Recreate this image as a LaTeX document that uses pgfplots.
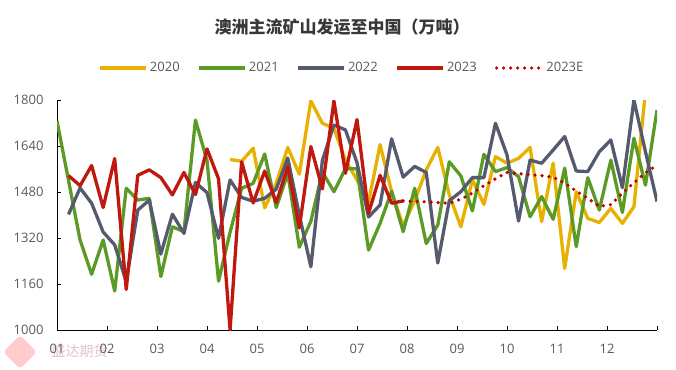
\documentclass[border=0pt]{standalone}
\usepackage{pgfplots}
\pgfplotsset{compat=1.18}
\usepackage{pgfplotstable}
\usepackage{fontspec}
\setmainfont{Open Sans}
\newfontfamily\cjk{Noto Sans CJK SC}
\definecolor{c20}{HTML}{E8B000}
\definecolor{c21}{HTML}{5C9A26}
\definecolor{c22}{HTML}{565A6E}
\definecolor{c23}{HTML}{C0170F}
\definecolor{c23e}{HTML}{C00000}
\definecolor{txt}{HTML}{595959}

\pgfplotstableread{
x y
15 1593
16 1587
17 1632
18 1425
19 1510
20 1635
21 1542
22 1797
23 1719
24 1701
25 1591
26 1522
27 1445
28 1645
29 1481
30 1362
31 1450
32 1557
33 1635
34 1470
35 1359
36 1522
37 1437
38 1603
39 1580
40 1597
41 1635
42 1377
43 1580
44 1214
45 1481
46 1388
47 1374
48 1423
49 1371
50 1429
51 1830
52 1860
}\tA

\pgfplotstableread{
x y
0 1727
1 1520
2 1313
3 1194
4 1313
5 1136
6 1493
7 1452
8 1458
9 1186
10 1359
11 1342
12 1730
13 1590
14 1170
15 1340
16 1493
17 1510
18 1612
19 1426
20 1545
21 1288
22 1378
23 1550
24 1481
25 1561
26 1561
27 1278
28 1371
29 1483
30 1342
31 1493
32 1301
33 1365
34 1585
35 1536
36 1414
37 1611
38 1551
39 1565
40 1533
41 1394
42 1464
43 1385
44 1563
45 1290
46 1530
47 1417
48 1591
49 1409
50 1667
51 1504
52 1765
}\tB

\pgfplotstableread{
x y
1 1402
2 1494
3 1441
4 1341
5 1296
6 1168
7 1417
8 1452
9 1264
10 1403
11 1336
12 1513
13 1478
14 1319
15 1522
16 1461
17 1448
18 1458
19 1490
20 1598
21 1400
22 1220
23 1590
24 1713
25 1696
26 1582
27 1393
28 1435
29 1665
30 1532
31 1569
32 1548
33 1233
34 1450
35 1481
36 1530
37 1530
38 1719
39 1609
40 1379
41 1591
42 1580
43 1626
44 1673
45 1553
46 1551
47 1620
48 1661
49 1495
50 1800
51 1620
52 1447
}\tC

\pgfplotstableread{
x y
1 1537
2 1502
3 1572
4 1426
5 1596
6 1141
7 1538
8 1557
9 1530
10 1470
11 1548
12 1471
13 1630
14 1526
15 1000
16 1585
17 1442
18 1553
19 1443
20 1568
21 1355
22 1638
23 1491
24 1797
25 1545
26 1732
27 1406
28 1538
29 1441
30 1449
}\tD

\pgfplotstableread{
x y
30 1449
31 1447
32 1446
33 1443
34 1441
35 1455
36 1476
37 1502
38 1526
39 1548
40 1544
41 1540
42 1537
43 1531
44 1511
45 1483
46 1458
47 1430
48 1436
49 1476
50 1512
51 1547
52 1573
}\tE

\begin{document}
\begin{tikzpicture}
\path[use as bounding box] (0,0) rectangle (676pt,369pt);
\begin{axis}[
  at={(57pt,39pt)}, anchor=south west,
  scale only axis, width=600pt, height=230pt,
  xmin=0, xmax=52, ymin=1000, ymax=1800,
  axis lines*=left,
  axis line style={black, line width=1pt},
  tick align=inside, major tick length=4pt,
  tick style={black, line width=0.8pt},
  xtick={0,4.3333,8.6667,13,17.3333,21.6667,26,30.3333,34.6667,39,43.3333,47.6667,52},
  xticklabels={01,02,03,04,05,06,07,08,09,10,11,12,{}},
  ytick={1000,1160,1320,1480,1640,1800},
  ticklabel style={font=\fontsize{13}{15}\selectfont, text=txt},
  xticklabel style={yshift=-11pt},
  yticklabel style={xshift=-10pt},
  /pgf/number format/assume math mode=true,
  /pgf/number format/1000 sep={},
  legend columns=5,
  legend style={at={(0.475,1.139)}, anchor=center, draw=none, fill=none,
    font=\fontsize{13}{15}\selectfont, text=txt},
  legend image code/.code={\draw[#1] (0pt,0pt) -- (46pt,0pt);},
  every axis plot/.append style={line join=round, line width=3.3pt},
]
\addplot[c20, no marks] table {\tA}; \addlegendentry{2020\rule{16pt}{0pt}}
\addplot[c21, no marks] table {\tB}; \addlegendentry{2021\rule{16pt}{0pt}}
\addplot[c22, no marks] table {\tC}; \addlegendentry{2022\rule{16pt}{0pt}}
\addplot[c23, no marks] table {\tD}; \addlegendentry{2023\rule{16pt}{0pt}}
\addplot[c23e, no marks, line width=3.6pt, line cap=round, dash pattern=on 0pt off 7pt] table {\tE}; \addlegendentry{2023E}
\end{axis}
\node[anchor=center, text=black!78] at (342pt,342pt) {\cjk\bfseries\fontsize{17}{20}\selectfont 澳洲主流矿山发运至中国（万吨）};
\fill[red!45, opacity=0.45, rounded corners=4pt, rotate around={45:(20pt,17pt)}] (8pt,5pt) rectangle (32pt,29pt);
\node[anchor=west, text=red!30!gray, opacity=0.35] at (48pt,18pt) {\cjk\fontsize{14}{16}\selectfont 盛达期货};
\end{tikzpicture}
\end{document}
